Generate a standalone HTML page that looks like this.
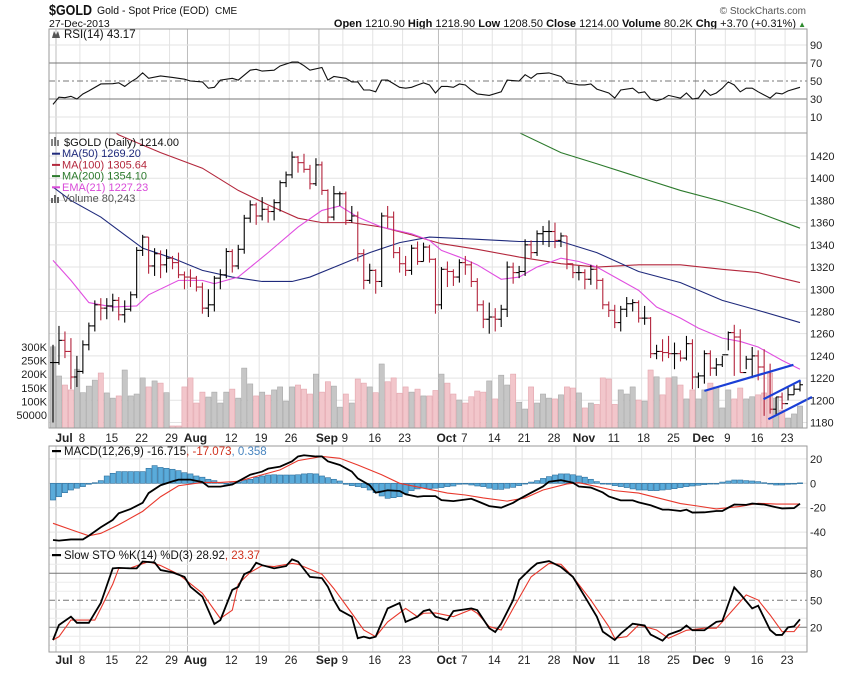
<!DOCTYPE html>
<html><head><meta charset="utf-8"><title>$GOLD chart</title>
<style>
html,body{margin:0;padding:0;background:#fff;}
svg text{font-family:"Liberation Sans",sans-serif;}
</style></head>
<body>
<svg id="chart" width="850" height="668" viewBox="0 0 850 668" xmlns="http://www.w3.org/2000/svg">
<rect x="0" y="0" width="850" height="668" fill="#fff"/>
<g>
<text x="49" y="15" font-size="15" font-weight="bold" fill="#111" textLength="43" lengthAdjust="spacingAndGlyphs">$GOLD</text>
<text x="97" y="14" font-size="11" fill="#111" textLength="112" lengthAdjust="spacingAndGlyphs">Gold - Spot Price (EOD)</text>
<text x="215" y="14" font-size="10" fill="#111">CME</text>
<text x="49" y="27" font-size="10.5" fill="#111">27-Dec-2013</text>
<text x="806" y="14" font-size="10" fill="#555" text-anchor="end">© StockCharts.com</text>
<text x="796" y="27" font-size="11" fill="#111" text-anchor="end"><tspan font-weight="bold">Open</tspan> 1210.90  <tspan font-weight="bold">High</tspan> 1218.90  <tspan font-weight="bold">Low</tspan> 1208.50  <tspan font-weight="bold">Close</tspan> 1214.00  <tspan font-weight="bold">Volume</tspan> 80.2K  <tspan font-weight="bold">Chg</tspan> +3.70 (+0.31%)</text>
<text x="806" y="27" font-size="8" fill="#2e8b2e" text-anchor="end">▲</text>
</g>
<g id="layer"></g>
</svg>
<script>
// ---------- DATA ----------
const closes=[1234,1254,1244,1221,1226,1250,1267,1286,1283,1285,1290,1277,1282,1295,1335,1347,1321,1332,1322,1328,1324,1313,1311,1310,1302,1283,1286,1310,1313,1334,1321,1336,1364,1376,1366,1372,1370,1378,1396,1403,1419,1414,1408,1395,1412,1389,1365,1386,1386,1362,1366,1332,1308,1317,1307,1366,1365,1333,1323,1317,1337,1325,1338,1327,1286,1318,1316,1311,1324,1322,1307,1286,1273,1275,1273,1282,1320,1315,1316,1340,1333,1350,1352,1352,1344,1348,1323,1315,1315,1309,1318,1308,1286,1281,1270,1282,1287,1288,1274,1274,1242,1244,1243,1242,1242,1238,1251,1221,1222,1242,1229,1232,1241,1261,1257,1225,1237,1240,1230,1225,1192,1203,1197,1205,1210,1214];
const highs=[1250,1267,1262,1256,1240,1254,1270,1290,1292,1292,1296,1293,1290,1298,1338,1349,1347,1337,1335,1336,1330,1333,1316,1318,1312,1306,1300,1312,1318,1337,1336,1340,1367,1380,1378,1383,1375,1381,1398,1406,1424,1420,1422,1412,1418,1415,1390,1393,1388,1388,1375,1370,1336,1323,1318,1369,1375,1370,1338,1330,1340,1343,1342,1340,1328,1320,1325,1318,1327,1330,1325,1310,1290,1288,1283,1286,1325,1324,1321,1345,1344,1353,1357,1362,1360,1351,1348,1323,1321,1318,1322,1322,1310,1289,1286,1285,1293,1291,1290,1285,1275,1250,1255,1258,1252,1245,1258,1255,1225,1245,1245,1238,1240,1262,1268,1264,1240,1248,1245,1246,1233,1203,1207,1212,1214,1218];
const lows=[1180,1232,1238,1210,1212,1224,1245,1262,1272,1273,1280,1272,1270,1280,1292,1330,1314,1312,1310,1315,1318,1310,1300,1302,1298,1278,1275,1280,1300,1310,1315,1318,1332,1360,1358,1362,1360,1362,1370,1392,1400,1405,1405,1390,1393,1385,1360,1362,1375,1358,1360,1325,1300,1305,1296,1302,1355,1328,1315,1312,1313,1322,1325,1324,1278,1282,1302,1303,1306,1313,1302,1280,1265,1260,1262,1266,1275,1305,1310,1312,1328,1330,1340,1338,1337,1338,1318,1310,1308,1300,1304,1300,1282,1275,1265,1262,1275,1280,1270,1268,1238,1237,1235,1238,1228,1235,1236,1210,1211,1215,1222,1222,1230,1245,1222,1225,1228,1220,1218,1186,1188,1186,1192,1200,1205,1208];
const volumes=[300,193,160,142,218,132,156,178,204,131,112,120,215,120,127,186,153,175,167,132,10,10,153,186,94,134,116,134,94,134,145,112,222,164,120,134,123,142,153,101,153,160,145,127,200,134,172,156,79,127,94,182,167,153,132,237,172,186,130,153,134,145,120,120,140,200,167,127,105,94,117,138,134,175,109,196,160,200,97,72,153,94,127,112,109,124,153,149,131,76,94,89,186,182,89,142,127,153,105,101,215,190,124,186,190,160,109,142,109,142,167,153,76,142,109,149,109,117,124,131,204,112,68,39,54,83];
const ma50Idx=[0,3,8,15,20,25,30,35,40,43,48,53,58,63,71,78,85,91,98,105,112,118,125];
const ma50Val=[1392,1380,1365,1337,1328,1317,1311,1307,1307,1311,1322,1333,1342,1347,1345,1343,1343,1333,1316,1306,1290,1281,1270];
const ma100Idx=[0,11,18,25,31,36,41,45,50,55,60,63,65,71,78,85,91,98,105,112,118,125];
const ma100Val=[1480,1439,1423,1409,1389,1376,1364,1360,1360,1356,1349,1344,1341,1336,1329,1323,1320,1322,1322,1318,1315,1306];
const ma200Idx=[74,78,85,91,98,105,112,118,125];
const ma200Val=[1448,1441,1423,1413,1401,1389,1379,1369,1355];
const emaIdx=[0,3,6,10,14,16,21,25,27,31,36,41,45,48,51,55,60,63,65,68,71,75,78,81,85,88,91,95,98,101,105,108,112,115,118,122,125];
const emaVal=[1326,1308,1288,1284,1285,1295,1308,1308,1305,1311,1333,1356,1371,1375,1365,1356,1350,1344,1335,1329,1322,1309,1311,1320,1328,1325,1320,1308,1299,1284,1274,1265,1256,1253,1248,1236,1228];
const rsiIdx=[0,1,2,3,4,5,6,8,10,11,12,13,14,15,16,18,20,22,23,25,26,27,28,30,31,33,34,35,37,38,40,41,42,43,45,46,47,49,50,51,52,53,54,55,56,58,59,60,61,62,63,64,65,66,67,68,69,70,71,73,75,76,78,79,80,81,83,85,86,88,89,90,91,93,94,95,97,98,99,100,101,102,103,105,106,107,108,109,110,111,112,113,114,115,116,117,118,120,121,122,123,125];
const rsiVal=[24,32,31.5,33,30,35.6,39,46.7,47,48,44,49,53,59,53,55.6,54,52,50,49,42,43,51,53,51,62,63,61,62,66.7,71,71,67,62,65,51,55,53,49,49,40,40,38,51,51,43,42,43,45.6,48,45.6,36.7,44,44,43,46.7,45.6,40,35.6,34,38,51,50,57,53,58,59,55,48,45.6,45.6,46.7,41,36.7,31,40,42,36.7,38,30,28,30,34,31,36.7,30,31,40,34,36.7,42,49,45.6,38,42,42,38,31,36.7,35.6,39,43];
const macdIdx=[0,1,3,5,6,8,10,11,13,15,16,18,20,21,23,25,26,28,30,31,33,35,36,38,40,41,42,44,45,46,48,50,51,53,54,56,58,59,61,62,64,65,67,70,71,73,75,77,78,80,82,83,85,87,88,90,92,93,95,97,98,100,102,103,105,106,107,109,111,112,113,114,116,117,119,121,122,124,125];
const macdVal=[-46.5,-47,-46,-46,-43,-36,-30,-24.6,-21,-16,-8,-1.6,1.6,3,3,1,-2.7,-2.7,-1,1.6,7,9.6,12,13.7,18,22,23,22,22,18,15,9.6,4,-1.6,-7.7,-5.7,-6.3,-9,-11,-10.5,-10.5,-13.8,-14.6,-12.7,-14.6,-18.7,-20,-16,-13,-7.7,-2.6,1.3,2.6,0.5,-2.6,-3.5,-7.5,-10.8,-14,-14,-15.6,-18,-21.6,-21.6,-22.7,-21.6,-24,-23.8,-22.7,-22.7,-20,-17.4,-17.7,-16.6,-17.4,-19.6,-20.6,-20.3,-16.7];
const signalIdx=[0,3,6,8,11,15,18,21,25,28,31,35,38,41,45,48,51,55,58,62,66,69,72,76,79,82,86,88,91,94,98,101,105,108,111,115,118,121,125];
const signalVal=[-32.8,-38,-43,-41,-34,-23,-11,-2,0.7,0.7,1.6,7,11,18.6,22,20.5,15,7,0,-4,-8,-9.6,-12,-14.6,-12,-5.5,-0.5,0.5,-2.7,-6,-8,-11.7,-16.6,-18.7,-21,-19,-16.4,-17,-17];
const histVal=[-13.7,-11,-7.7,-5.5,-4,-2.7,-0.8,0.5,2.2,6,8.2,9.6,9.6,9.6,9.6,9.6,12.3,14.5,13,12.3,11.5,10.4,8.7,7.7,6,5,3.3,2.2,0.8,0,0.5,1,2.7,3.3,5,6,6.8,7,6.8,6.8,6.8,7,7.7,8,7.7,6,4.6,3.3,1.9,-0.8,-1.9,-2.7,-3.5,-5.5,-7.7,-10.4,-12.3,-11.8,-11,-8.2,-6,-4.6,-4,-4.6,-4,-3.5,-2.7,-2.2,-0.8,0,-1.4,-2.2,-2.7,-4,-5,-5,-4,-3.3,-1.9,0,1,2.2,4,5.5,6.8,7.7,7.7,7,6,5,3.3,1.4,0,-0.8,-1.9,-2.7,-3.5,-4.6,-5.5,-5.5,-6,-6,-5.5,-5,-4.4,-3.5,-2.7,-2.2,-1.6,-1.1,-0.5,0,1,1.9,2.7,2.7,2.2,1.9,1.4,0.5,-0.5,-1.4,-1.4,-0.8,-0.5,0.36];
const stoKIdx=[0,1,3,4,6,8,10,11,13,14,15,17,18,20,22,23,25,27,28,30,31,32,33,34,35,37,39,40,41,43,45,46,47,48,50,51,52,53,54,56,58,59,61,62,63,64,66,67,70,71,73,74,75,77,78,80,81,83,85,87,89,91,92,94,95,97,99,100,102,103,105,106,107,109,111,112,114,115,117,118,120,121,122,123,124,125];
const stoKVal=[5.9,22.6,31.8,25,25,47,85.5,86,85.5,85.5,93,92,83.6,81,76,65,54,23.7,28,61.5,65,79,82,91.7,89,85.5,88,95.5,93,76,74.6,65,50.3,39,31.8,7.8,9.6,7.8,9.6,41,47,26,31.8,38,39.8,31.8,28,38,41,39,19,14.8,24,50.3,72.6,85.5,91,93.6,87,76,54,31.8,15.2,5.9,13,24,22,12,5.2,12,16.7,22,16.7,16.7,26,27,64.4,57,41,44,17,11.5,11.5,20,21,28.9];
const stoDIdx=[0,1,3,5,7,8,10,11,13,16,18,21,25,28,30,31,33,35,37,40,41,45,47,50,52,54,56,59,61,62,64,67,70,71,73,75,77,80,83,85,87,90,93,94,96,98,101,103,106,109,111,112,116,118,120,122,124,125];
const stoDVal=[5.9,9.6,28,28,28,41,68,85.5,86,93,88.6,79,57.8,29.8,39,68,81,88.6,87.5,91,90,79,63,35.6,17,9.6,26,41,31.8,35.6,36,31.8,39.8,35.6,20.8,17,41,76,91,90,76,50.3,20.8,7.8,9.6,22.6,17,7.8,16.7,19,19,26,56,50.3,33.7,15.2,15.2,23.4];
const weekIdx=[0,4,9,14,19,22,29,34,39,44,48,53,58,64,68,73,78,83,87,93,98,103,107,112,117,122];
const weekLabels=["Jul","8","15","22","29","Aug","12","19","26","Sep","9","16","23","Oct","7","14","21","28","Nov","11","18","25","Dec","9","16","23"];
const monthFlags=[1,0,0,0,0,1,0,0,0,1,0,0,0,1,0,0,0,0,1,0,0,0,1,0,0,0];
const priceTicks=[1180,1200,1220,1240,1260,1280,1300,1320,1340,1360,1380,1400,1420];
const volTicks=[50,100,150,200,250,300];
const volTickLabels=["50000","100K","150K","200K","250K","300K"];
const rsiTicks=[10,30,50,70,90];
const macdTicks=[20,0,-20,-40];
const stoTicks=[20,50,80];
const trendLines=[[109,1208.5,123.9,1232],[118.9,1201,125.1,1218],[119.7,1183,127,1203]];

// ---------- AXES ----------
const L=49,R=807;
const xs=i=>53+i*5.976;
const gx=i=>xs(i)+3;
const py=p=>156+(1420-p)*1.1105;
const vy=v=>428.7-v*0.273;
const ry=v=>63+(70-v)*0.9;
const my=v=>483.3-v*1.22;
const sy=v=>627.3-(v-20)*0.9;
const panels={rsi:[29,133],price:[133,428],macd:[446,548],sto:[548,652]};

const NS="http://www.w3.org/2000/svg";
const layer=document.getElementById('layer');
function mk(tag,attrs,parent){const e=document.createElementNS(NS,tag);for(const k in attrs)e.setAttribute(k,attrs[k]);(parent||layer).appendChild(e);return e;}
function txt(x,y,s,attrs,parent){const e=mk('text',Object.assign({x:x,y:y,'font-size':11,fill:'#222'},attrs||{}),parent);e.textContent=s;return e;}

const defs=mk('defs',{});
for(const k in panels){const cp=mk('clipPath',{id:'clip-'+k},defs);mk('rect',{x:L,y:panels[k][0],width:R-L,height:panels[k][1]-panels[k][0]},cp);}

for(const k in panels){
  const g=mk('g',{});
  
  
  weekIdx.forEach((w,j)=>{
    const l=mk('line',{x1:gx(w),x2:gx(w),y1:panels[k][0],y2:panels[k][1],stroke:monthFlags[j]?'#bdbdbd':'#e3e3e3','stroke-width':1},g);
    
    
  });
}

// ---------- RSI PANEL ----------
const rsiG=mk('g',{'clip-path':'url(#clip-rsi)'});


rsiTicks.forEach(t=>{
  const ref=(t===70||t===30),mid=(t===50);
  const l=mk('line',{x1:L,x2:R,y1:ry(t),y2:ry(t),stroke:(ref||mid)?'#777':'#e3e3e3','stroke-width':1,'stroke-dasharray':mid?'6,3,2,3':'none'},rsiG);
  
  
});
const rsiLine=mk('polyline',{points:rsiIdx.map((d,i)=>xs(d)+','+ry(rsiVal[i])).join(' '),fill:'none',stroke:'#111','stroke-width':1.1},rsiG);


rsiTicks.forEach(t=>{const e=txt(810,ry(t)+4,String(t));});
const rsiLbl=txt(64,38,'RSI(14) 43.17',{'font-size':11.5,fill:'#111'});


mk('path',{d:'M52,38 L54,31 L56,35 L58,31 L60,38 Z',fill:'#555'});

// ---------- PRICE PANEL ----------
const prG=mk('g',{'clip-path':'url(#clip-price)'});


priceTicks.forEach(t=>{
  const l=mk('line',{x1:L,x2:R,y1:py(t),y2:py(t),stroke:'#e3e3e3','stroke-width':1},prG);
  
  
  const e=txt(810,py(t)+4,String(t));
  
  
});
volumes.forEach((v,i)=>{
  const down=i>0&&closes[i]<closes[i-1];
  const r=mk('rect',{x:xs(i)-2.6,y:vy(v),width:5.2,height:428.7-vy(v),fill:down?'#f2c6cb':'#c6c6c6',stroke:down?'#e3a5ad':'#a9a9a9','stroke-width':0.6},prG);
  
  
});
volTicks.forEach((t,j)=>{const e=txt(47,vy(t)+4,volTickLabels[j],{'text-anchor':'end'});});
function ln(idx,val,color,name,w){const p=mk('polyline',{points:idx.map((d,i)=>xs(d)+','+py(val[i])).join(' '),fill:'none',stroke:color,'stroke-width':w||1.1},prG);}
ln(ma100Idx,ma100Val,'#b3273c','ma100-line');
ln(ma50Idx,ma50Val,'#1f2a7c','ma50-line');
ln(ma200Idx,ma200Val,'#2c7a2c','ma200-line');
ln(emaIdx,emaVal,'#e04ee0','ema21-line');
closes.forEach((c,i)=>{
  const o=i>0?closes[i-1]:c;
  const col=c<o?'#b3243c':'#000';
  const g=mk('g',{stroke:col,'stroke-width':1.1},prG);
  
  
  const x=xs(i);
  mk('line',{x1:x,x2:x,y1:py(highs[i]),y2:py(lows[i])},g);
  mk('line',{x1:x-3,x2:x,y1:py(o),y2:py(o)},g);
  mk('line',{x1:x,x2:x+3,y1:py(c),y2:py(c)},g);
});
const tlG=mk('g',{});
trendLines.forEach((t,j)=>{
  const l=mk('line',{x1:xs(t[0]),y1:py(t[1]),x2:xs(t[2]),y2:py(t[3]),stroke:'#1a3fd6','stroke-width':2.2},tlG);
  
  
});
const lg=mk('g',{});


const legendItems=[['$GOLD (Daily) 1214.00','#111'],['MA(50) 1269.20','#1f2a7c'],['MA(100) 1305.64','#b3273c'],['MA(200) 1354.10','#2c7a2c'],['EMA(21) 1227.23','#d94ad9'],['Volume 80,243','#555']];
legendItems.forEach((it,j)=>{
  const y=146+j*11.2;
  const e=txt(j===0?64:62,y,it[0],{'font-size':11,fill:it[1]},lg);
  
  
  if(j>0&&j<5)mk('rect',{x:52,y:y-4.5,width:8,height:2,fill:it[1]},lg);
});
mk('path',{d:'M52,146 v-7 M55,146 v-9 M58,146 v-6',stroke:'#333','stroke-width':1.2},lg);
mk('path',{d:'M52,203 v-5 M55,203 v-8 M58,203 v-6',stroke:'#666','stroke-width':2},lg);

weekIdx.forEach((w,j)=>{
  const e=txt(gx(w)+(monthFlags[j]?8:2),442,weekLabels[j],{'text-anchor':'middle','font-size':monthFlags[j]?12:11.5,'font-weight':monthFlags[j]?'bold':'normal'});
  
  
});

// ---------- MACD PANEL ----------
const mG=mk('g',{'clip-path':'url(#clip-macd)'});


macdTicks.forEach(t=>{
  const l=mk('line',{x1:L,x2:R,y1:my(t),y2:my(t),stroke:'#e3e3e3'},mG);
  
  
  const e=txt(810,my(t)+4,String(t));
  
  
});
histVal.forEach((v,i)=>{
  const y0=my(0),y1=my(v);
  const r=mk('rect',{x:xs(i)-2.6,y:Math.min(y0,y1),width:5.2,height:Math.max(0.8,Math.abs(y1-y0)),fill:'#5aabda',stroke:'#2d6e9c','stroke-width':0.6},mG);
  
  
});
const sig=mk('polyline',{points:signalIdx.map((d,i)=>xs(d)+','+my(signalVal[i])).join(' '),fill:'none',stroke:'#e8382c','stroke-width':1.1},mG);


const mac=mk('polyline',{points:macdIdx.map((d,i)=>xs(d)+','+my(macdVal[i])).join(' '),fill:'none',stroke:'#000','stroke-width':1.8},mG);


mk('rect',{x:52,y:450,width:9,height:2.2,fill:'#000'});
const ml=txt(64,455,'',{'font-size':11.5,fill:'#111'});


ml.innerHTML='MACD(12,26,9) -16.715<tspan fill="#d0321e">, -17.073</tspan><tspan fill="#4a86c0">, 0.358</tspan>';

// ---------- STO PANEL ----------
const sG=mk('g',{'clip-path':'url(#clip-sto)'});


[0,10,30,40,60,70,90,100].forEach(t=>{mk('line',{x1:L,x2:R,y1:sy(t),y2:sy(t),stroke:'#ececec'},sG);});
stoTicks.forEach(t=>{
  const l=mk('line',{x1:L,x2:R,y1:sy(t),y2:sy(t),stroke:'#777','stroke-dasharray':t===50?'6,3,2,3':'none'},sG);
  
  
  const e=txt(810,sy(t)+4,String(t));
  
  
});
const dl=mk('polyline',{points:stoDIdx.map((d,i)=>xs(d)+','+sy(stoDVal[i])).join(' '),fill:'none',stroke:'#e8382c','stroke-width':1.1},sG);


const kl=mk('polyline',{points:stoKIdx.map((d,i)=>xs(d)+','+sy(stoKVal[i])).join(' '),fill:'none',stroke:'#000','stroke-width':1.8},sG);


mk('rect',{x:52,y:554,width:9,height:2.2,fill:'#000'});
const sl=txt(64,559,'',{'font-size':11.5,fill:'#111'});


sl.innerHTML='Slow STO %K(14) %D(3) 28.92<tspan fill="#d0321e">, 23.37</tspan>';

weekIdx.forEach((w,j)=>{
  const e=txt(gx(w)+(monthFlags[j]?8:2),664,weekLabels[j],{'text-anchor':'middle','font-size':monthFlags[j]?12:11.5,'font-weight':monthFlags[j]?'bold':'normal'});
  
  
});

for(const k in panels){
  const r=mk('rect',{x:L,y:panels[k][0],width:R-L,height:panels[k][1]-panels[k][0],fill:'none',stroke:'#9a9a9a','stroke-width':1});
  
  
}
</script>
</body></html>
